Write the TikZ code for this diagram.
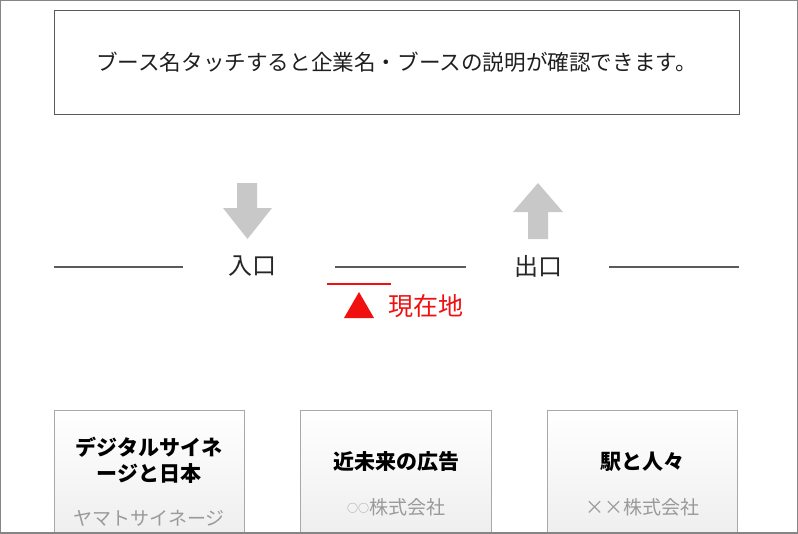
\documentclass[tikz,border=0pt]{standalone}
\usepackage{fontspec}
\setmainfont{Noto Sans CJK JP}
\usetikzlibrary{positioning}

\definecolor{framegray}{HTML}{858585}
\definecolor{linegray}{HTML}{5A5A5A}
\definecolor{arrowgray}{HTML}{C8C8C8}
\definecolor{boothgray}{HTML}{A8A8A8}
\definecolor{subgray}{HTML}{9A9A9A}
\definecolor{herered}{HTML}{F01010}

\tikzset{
  booth/.style={draw=boothgray, line width=1pt, top color=white, bottom color=black!7},
  title/.style={font=\fontsize{21}{26}\selectfont\bfseries, text=black, align=center},
  company/.style={font=\fontsize{19}{22}\selectfont, text=subgray},
  gate/.style={font=\fontsize{24}{26}\selectfont, text=black!85}
}

\begin{document}
\begin{tikzpicture}[x=1pt,y=-1pt]

      \useasboundingbox (0,0) rectangle (798,533);
      \clip (0,0) rectangle (798,533);

      % guide box
      \node[draw=linegray, line width=1pt, minimum width=685pt, minimum height=104pt,
            font=\fontsize{21.6}{25}\selectfont, text=black!88] (guide) at (396.5,62)
            {ブース名タッチすると企業名・ブースの説明が確認できます。};

      % entrance / exit arrows
      \fill[arrowgray] (237,183) -- (257,183) -- (257,208) -- (272,208) -- (247.5,239)
                       -- (223,208) -- (237,208) -- cycle;
      \fill[arrowgray] (538,183) -- (563,212) -- (548,212) -- (548,239) -- (528,239)
                       -- (528,212) -- (513,212) -- cycle;

      \begin{scope}[every node/.style={gate}]
        \node (in)  at (252,266) {入口};
        \node (out) at (538,266) {出口};
      \end{scope}

      \coordinate (w1) at (54,267);
      \coordinate (w2) at (183,267);
      \coordinate (w3) at (335,267);
      \coordinate (w4) at (466,267);
      \coordinate (w5) at (609,267);
      \coordinate (w6) at (739,267);
      \begin{scope}[linegray, line width=1.6pt]
        \draw (w1) -- (w2);
        \draw (w3) -- (w4);
        \draw (w5) -- (w6);
      \end{scope}

      % current position
      \coordinate (r1) at (327,284);
      \coordinate (r2) at (391,284);
      \draw[herered, line width=2pt] (r1) -- (r2);
      \fill[herered] (344,318) -- (359,292) -- (374,318) -- cycle;
      \node[font=\fontsize{25}{27}\selectfont, text=herered] (here) at (425.5,306) {現在地};

      % booths
      \draw[booth] (54,545) -- (54,410) -- (244,410) -- (244,545);
      \draw[booth] (300,545) -- (300,410) -- (491,410) -- (491,545);
      \draw[booth] (547,545) -- (547,410) -- (737,410) -- (737,545);

      \begin{scope}[every node/.style={title}]
        \node (b1) at (149,460) {デジタルサイネ\\ージと日本};
        \node (b2) at (396,462) {近未来の広告};
        \node (b3) at (642,462) {駅と人々};
      \end{scope}
      \begin{scope}[every node/.style={company}]
        \node (c1) at (149,518) {ヤマトサイネージ};
        \node (c2) at (396,507) {\raisebox{2pt}{\fontsize{11}{12}\selectfont ○○}株式会社};
        \node (c3) at (642,507) {××株式会社};
      \end{scope}

      % outer frame
      \draw[framegray, line width=2.5pt] (0,0) rectangle (798,533);

    \end{tikzpicture}
\end{document}
